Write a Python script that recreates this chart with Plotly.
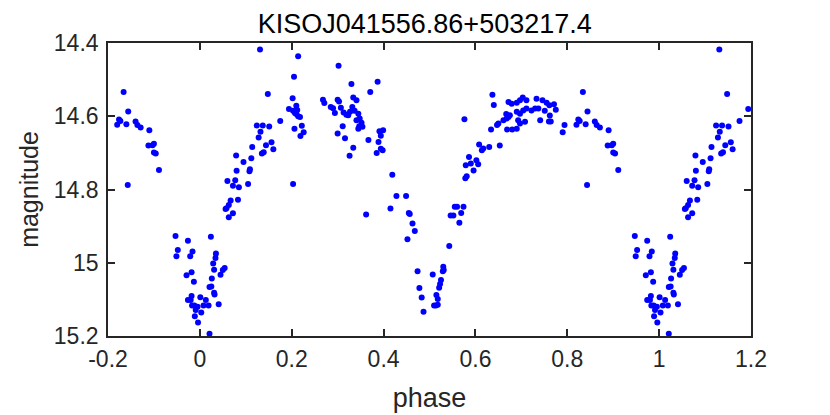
import plotly.graph_objects as go

# Light curve folded at phase 0..1
phase = [
    0.131, 0.148, 0.175, 0.124, 0.137, 0.151, 0.132, 0.128, 0.156, 0.144, 0.160, 0.139, 0.135,
    0.114, 0.079, 0.112, 0.095, 0.109, 0.108, 0.080, 0.077, 0.060, 0.072, 0.085, 0.105, 0.083,
    0.067, 0.063, 0.058, 0.056, 0.072, 0.063, 0.024, 0.035, 0.034, 0.029, 0.031, 0.054, 0.050,
    0.045, 0.026, 0.021, 0.025, 0.031, 0.032, 0.001, 0.013, 0.041, 0.019, 0.008, 0.003, 0.021,
    0.194, 0.214, 0.205, 0.302, 0.330, 0.371, 0.202, 0.210, 0.203, 0.207, 0.210, 0.214, 0.218,
    0.212, 0.206, 0.222, 0.226, 0.219, 0.203, 0.268, 0.271, 0.285, 0.294, 0.290, 0.300, 0.303,
    0.307, 0.313, 0.319, 0.311, 0.300, 0.316, 0.334, 0.326, 0.334, 0.341, 0.332, 0.337, 0.345,
    0.348, 0.341, 0.352, 0.347, 0.354, 0.345, 0.327, 0.323, 0.367, 0.362,
    0.387, 0.391, 0.399, 0.394, 0.389, 0.394, 0.398, 0.385, 0.419, 0.428, 0.449, 0.415, 0.455,
    0.457, 0.463, 0.468, 0.452, 0.474, 0.507, 0.530, 0.531, 0.529, 0.525, 0.523, 0.521, 0.478,
    0.483, 0.515, 0.518, 0.514, 0.510, 0.518, 0.487, 0.543, 0.576, 0.586, 0.579, 0.590, 0.596,
    0.581, 0.578, 0.555, 0.560, 0.574, 0.569, 0.546, 0.552, 0.565,
    0.602, 0.606, 0.608, 0.614, 0.617, 0.630, 0.653, 0.634, 0.647, 0.650, 0.661, 0.667, 0.672,
    0.669, 0.680, 0.690, 0.672, 0.679, 0.690, 0.697, 0.703, 0.711, 0.690, 0.697, 0.704, 0.711,
    0.722, 0.730, 0.737, 0.693, 0.697, 0.708, 0.675, 0.668, 0.733, 0.746, 0.755, 0.761, 0.771,
    0.775, 0.751, 0.762, 0.764, 0.760, 0.741, 0.794, 0.790, 0.637, 0.640,
    0.834, 0.844, 0.824, 0.827, 0.820, 0.840, 0.860, 0.864, 0.871, 0.890, 0.888, 0.897, 0.900,
    0.900, 0.904, 0.911, 0.843, 0.947, 0.974, 0.952, 0.949, 0.984, 0.979, 0.982, 0.971, 0.987,
    0.982, 0.974, 0.980, 0.988, 0.995, 0.991, 0.989, 0.996, 0.983,
]
magnitude = [
    14.418, 14.539, 14.613, 14.625, 14.625, 14.628, 14.642, 14.658, 14.671, 14.679, 14.690, 14.698, 14.702,
    14.684, 14.707, 14.715, 14.725, 14.745, 14.750, 14.749, 14.775, 14.777, 14.790, 14.794, 14.785, 14.828,
    14.830, 14.842, 14.851, 14.853, 14.865, 14.876, 14.929, 14.975, 14.987, 15.002, 15.019, 15.014, 15.020,
    15.033, 15.043, 15.066, 15.065, 15.082, 15.087, 15.094, 15.102, 15.113, 15.117, 15.117, 15.136, 15.194,
    14.580, 14.436, 14.492, 14.462, 14.512, 14.534, 14.551, 14.571, 14.585, 14.591, 14.594, 14.600, 14.602,
    14.583, 14.634, 14.626, 14.644, 14.654, 14.785, 14.555, 14.564, 14.575, 14.591, 14.578, 14.555, 14.560,
    14.577, 14.590, 14.596, 14.627, 14.647, 14.660, 14.686, 14.708, 14.549, 14.556, 14.575, 14.585, 14.593,
    14.606, 14.611, 14.618, 14.627, 14.629, 14.634, 14.588, 14.597, 14.665, 14.868,
    14.506, 14.641, 14.638, 14.653, 14.670, 14.689, 14.693, 14.700, 14.760, 14.818, 14.818, 14.852, 14.864,
    14.867, 14.893, 14.913, 14.936, 15.023, 15.032, 15.011, 15.020, 15.023, 15.047, 15.058, 15.068, 15.069,
    15.095, 15.088, 15.099, 15.117, 15.117, 15.115, 15.134, 14.954, 14.608, 14.711, 14.734, 14.729, 14.748,
    14.764, 14.769, 14.847, 14.847, 14.847, 14.864, 14.871, 14.871, 14.891,
    14.720, 14.731, 14.677, 14.693, 14.688, 14.684, 14.680, 14.636, 14.624, 14.620, 14.611, 14.594, 14.602,
    14.636, 14.636, 14.634, 14.561, 14.566, 14.563, 14.556, 14.549, 14.556, 14.588, 14.593, 14.584, 14.579,
    14.584, 14.579, 14.579, 14.611, 14.620, 14.615, 14.597, 14.606, 14.552, 14.556, 14.563, 14.570, 14.567,
    14.582, 14.585, 14.598, 14.614, 14.614, 14.611, 14.624, 14.644, 14.541, 14.569,
    14.534, 14.587, 14.609, 14.613, 14.623, 14.622, 14.614, 14.624, 14.631, 14.638, 14.680, 14.679, 14.675,
    14.699, 14.702, 14.747, 14.788, 14.927, 14.940, 14.965, 14.982, 14.969, 14.982, 15.026, 15.034, 15.052,
    15.091, 15.102, 15.102, 15.117, 15.120, 15.129, 15.146, 15.163, 15.117,
]

x_ticks = [-0.2, 0, 0.2, 0.4, 0.6, 0.8, 1.0, 1.2]
x_tick_labels = ["-0.2", "0", "0.2", "0.4", "0.6", "0.8", "1", "1.2"]
y_ticks = [14.4, 14.6, 14.8, 15.0, 15.2]
y_tick_labels = ["14.4", "14.6", "14.8", "15", "15.2"]
title_text = "KISOJ041556.86+503217.4"

# Plot the folded curve plus its wrapped copies within [-0.2, 1.2]
xs, ys = [], []
for p, m in zip(phase, magnitude):
    xs.append(p); ys.append(m)
    if p - 1 >= -0.2:
        xs.append(p - 1); ys.append(m)
    if p + 1 <= 1.2:
        xs.append(p + 1); ys.append(m)

AX = "#262626"
FONT = "Liberation Sans"

fig = go.Figure(go.Scatter(
    x=xs, y=ys, mode="markers",
    marker=dict(color="#0000ff", size=6, line=dict(width=0)),
    cliponaxis=False, hoverinfo="skip",
))

axis_common = dict(
    showgrid=False, zeroline=False, showline=True, linecolor=AX, linewidth=1.6,
    mirror="ticks", ticks="inside", ticklen=7, tickwidth=1.6, tickcolor=AX,
    tickfont=dict(family=FONT, size=23, color=AX), automargin=False,
)

fig.update_layout(
    width=822, height=407,
    margin=dict(l=100, r=79, t=35, b=79),
    paper_bgcolor="white", plot_bgcolor="white",
    showlegend=False,
    title=dict(text=title_text, x=0.507, xanchor="center", y=0.962, yanchor="middle",
               font=dict(family=FONT, size=27, color="black")),
    xaxis=dict(range=[-0.2, 1.2], tickvals=x_ticks, ticktext=x_tick_labels,
               ticklabelstandoff=2,
               title=dict(text="phase", standoff=17, font=dict(family=FONT, size=27, color=AX)),
               **axis_common),
    yaxis=dict(range=[15.2, 14.4], tickvals=y_ticks, ticktext=y_tick_labels,
               ticklabelstandoff=3,
               title=dict(text="magnitude", standoff=8, font=dict(family=FONT, size=25, color=AX)),
               **axis_common),
)

fig.write_html("out.html")
